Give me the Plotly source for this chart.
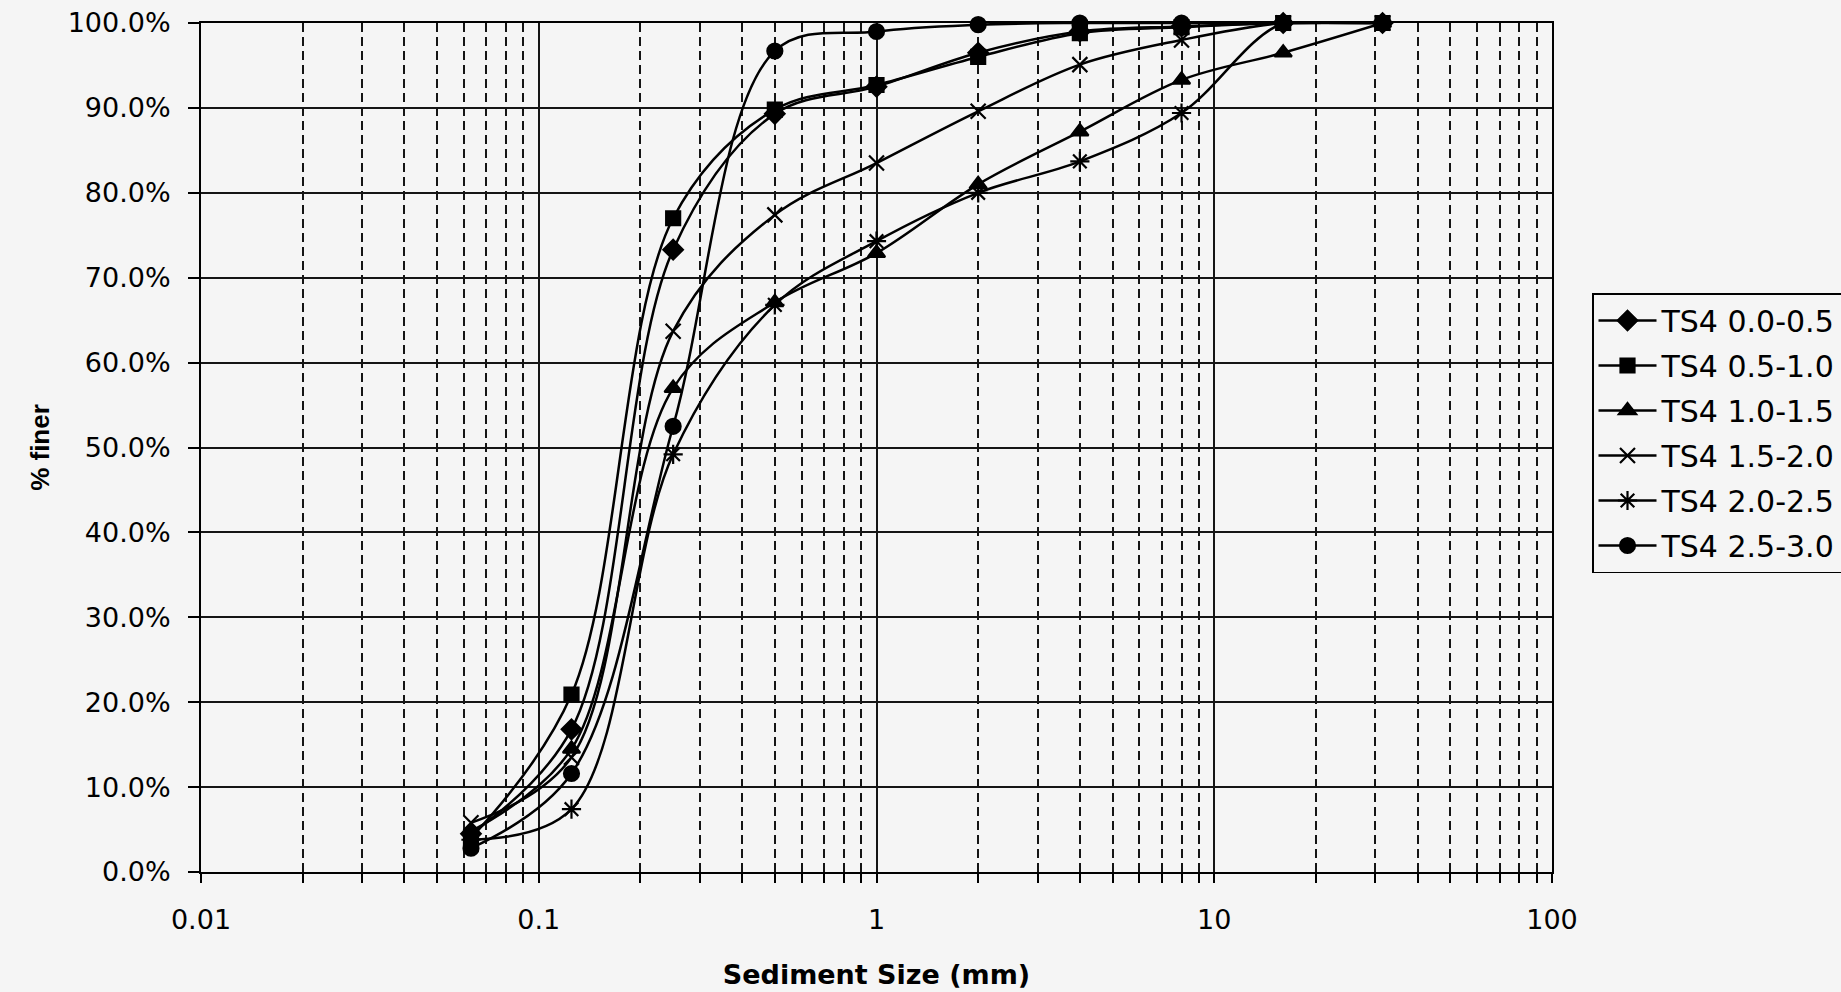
import plotly.graph_objects as go

sizes_mm = [0.063, 0.125, 0.25, 0.5, 1, 2, 4, 8, 16, 31.5]

series_names = ["TS4 0.0-0.5", "TS4 0.5-1.0", "TS4 1.0-1.5",
                "TS4 1.5-2.0", "TS4 2.0-2.5", "TS4 2.5-3.0"]

ts4_00_05 = [0.045, 0.168, 0.733, 0.893, 0.925, 0.965, 0.990, 0.996, 1.0, 1.0]
ts4_05_10 = [0.040, 0.209, 0.770, 0.898, 0.927, 0.960, 0.988, 0.995, 1.0, 1.0]
ts4_10_15 = [0.048, 0.145, 0.570, 0.671, 0.729, 0.810, 0.872, 0.933, 0.965, 1.0]
ts4_15_20 = [0.058, 0.135, 0.637, 0.774, 0.835, 0.896, 0.951, 0.980, 1.0, 1.0]
ts4_20_25 = [0.038, 0.074, 0.492, 0.668, 0.743, 0.800, 0.837, 0.894, 1.0, 1.0]
ts4_25_30 = [0.028, 0.116, 0.525, 0.967, 0.990, 0.998, 1.0, 1.0, 1.0, 1.0]

series_values = [ts4_00_05, ts4_05_10, ts4_10_15, ts4_15_20, ts4_20_25, ts4_25_30]
symbols = ["diamond", "square", "triangle-up", "x-thin-open", "asterisk-open", "circle"]
marker_sizes = [15, 14, 15, 15, 16, 15]

x_tick_vals = [0.01, 0.1, 1, 10, 100]
x_tick_text = ["0.01", "0.1", "1", "10", "100"]
x_minor_vals = [m * d for d in [0.01, 0.1, 1, 10] for m in range(2, 10)]
y_tick_vals = [i / 10 for i in range(11)]

fig = go.Figure()
for name, vals, sym, ms in zip(series_names, series_values, symbols, marker_sizes):
    fig.add_trace(go.Scatter(
        x=sizes_mm, y=vals, name=name, mode="lines+markers",
        line=dict(color="black", width=2.5, shape="spline", smoothing=1.0),
        marker=dict(symbol=sym, size=ms, color="black",
                    line=dict(color="black", width=2.2)),
        cliponaxis=False, legendgroup=name,
    ))

grid_col = "#151515"
bg = "#f5f5f5"

fig.update_layout(
    width=1841, height=992,
    margin=dict(l=201, r=289, t=23, b=120, autoexpand=False),
    paper_bgcolor=bg, plot_bgcolor=bg,
    font=dict(family="DejaVu Sans", size=26, color="black"),
    showlegend=True,
    legend=dict(
        xref="container", yref="container",
        x=1592 / 1841, y=1 - 293 / 992, xanchor="left", yanchor="top",
        bgcolor=bg, bordercolor="black", borderwidth=1.5,
        font=dict(family="DejaVu Sans", size=30, color="black"),
        traceorder="grouped", tracegroupgap=3, itemwidth=58,
    ),
    xaxis=dict(
        type="log", range=[-2, 2],
        tickvals=x_tick_vals, ticktext=x_tick_text,
        showgrid=True, gridcolor=grid_col, gridwidth=1.8,
        showline=True, linecolor="black", linewidth=2, mirror=True,
        ticks="outside", ticklen=9, tickwidth=1.8, tickcolor="black",
        ticklabelstandoff=14, ticklabeloverflow="allow",
        tickfont=dict(family="DejaVu Sans", size=27),
        minor=dict(tickvals=x_minor_vals, showgrid=True, gridcolor=grid_col,
                   gridwidth=1.8, griddash="9px,5px", ticks="outside",
                   ticklen=9, tickwidth=1.8, tickcolor="black"),
        title=dict(text="<b>Sediment Size (mm)</b>", standoff=31,
                   font=dict(family="DejaVu Sans", size=27)),
        zeroline=False,
    ),
    yaxis=dict(
        range=[0, 1], tickvals=y_tick_vals, tickformat=".1%",
        showgrid=True, gridcolor=grid_col, gridwidth=1.8,
        showline=True, linecolor="black", linewidth=2, mirror=True,
        ticks="outside", ticklen=11, tickwidth=1.8, tickcolor="black",
        ticklabelstandoff=12, ticklabeloverflow="allow",
        tickfont=dict(family="DejaVu Sans", size=27),
        title=dict(text="<b>% finer</b>", standoff=11,
                   font=dict(family="Liberation Sans", size=26)),
        zeroline=False,
    ),
)

fig.write_html("out.html",
               config={"displayModeBar": False},
               post_script="document.body.style.margin='0px';"
                           "document.body.style.background='#f5f5f5';")
